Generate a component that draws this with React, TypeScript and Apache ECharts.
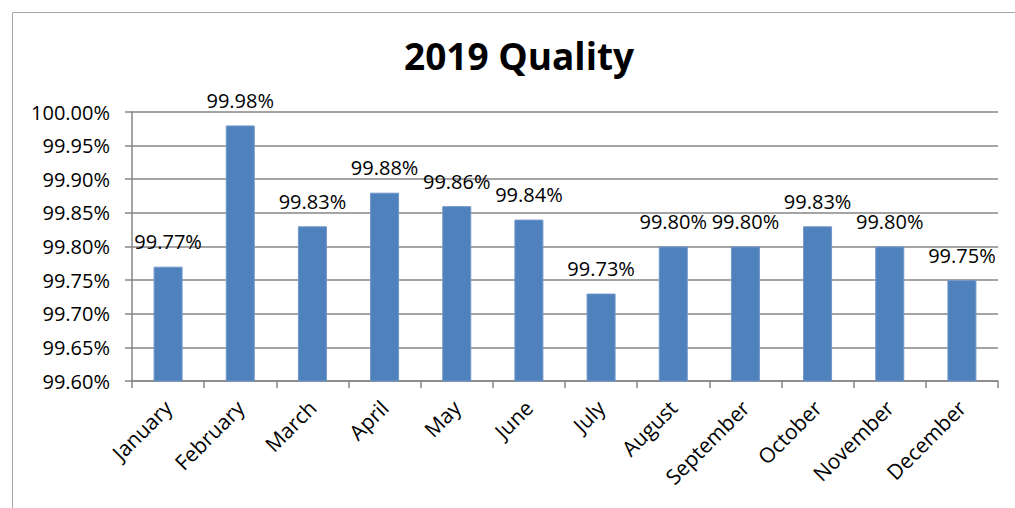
import React, { useEffect, useRef } from "react";
import * as echarts from "echarts";

const months = ["January", "February", "March", "April", "May", "June", "July", "August", "September", "October", "November", "December"];
const quality = [99.77, 99.98, 99.83, 99.88, 99.86, 99.84, 99.73, 99.8, 99.8, 99.83, 99.8, 99.75];
const yMin = 99.6;
const yMax = 100;
const yStep = 0.05;
const titleText = "2019 Quality";

export default function App() {
  const ref = useRef<HTMLDivElement>(null);
  useEffect(() => {
    document.body.style.margin = "0";
    const chart = echarts.init(ref.current!, undefined, { renderer: "svg" });
    const font = "'Open Sans', sans-serif";
    chart.setOption({
      animation: false,
      backgroundColor: "#ffffff",
      textStyle: { fontFamily: font },
      title: {
        text: titleText,
        left: 399,
        top: 32,
        textStyle: { fontSize: 37, fontWeight: "bold", color: "#000", fontFamily: font },
      },
      graphic: [
        {
          type: "rect",
          left: 10,
          top: 10,
          shape: { width: 1010, height: 497 },
          style: { fill: "none", stroke: "#a6a6a6", lineWidth: 1 },
          silent: true,
        },
      ],
      grid: { left: 132, right: 17, top: 112, bottom: 127, containLabel: false },
      xAxis: {
        type: "category",
        data: months,
        axisLine: { lineStyle: { color: "#868686", width: 1.5 } },
        axisTick: { show: true, length: 7, alignWithLabel: false, lineStyle: { color: "#868686", width: 1.5 } },
        axisLabel: { rotate: 45, fontSize: 21, color: "#000", margin: 23, interval: 0, fontFamily: font },
      },
      yAxis: {
        type: "value",
        min: yMin,
        max: yMax,
        interval: yStep,
        axisLine: { show: true, lineStyle: { color: "#868686", width: 1.5 } },
        axisTick: { show: true, length: 7, lineStyle: { color: "#868686", width: 1.5 } },
        splitLine: { lineStyle: { color: "#868686", width: 1.5 } },
        axisLabel: {
          fontSize: 20,
          color: "#000",
          margin: 22,
          fontFamily: font,
          formatter: (v: number) => v.toFixed(2) + "%",
        },
      },
      series: [
        {
          type: "bar",
          data: quality,
          barWidth: 29,
          itemStyle: { color: "#4F81BD", borderColor: "#7096c8", borderWidth: 1 },
          label: {
            show: true,
            position: "top",
            distance: 15,
            fontSize: 20,
            color: "#000",
            fontFamily: font,
            formatter: (p: any) => Number(p.value).toFixed(2) + "%",
          },
        },
      ],
    });
    return () => chart.dispose();
  }, []);
  return <div ref={ref} style={{ width: 1015, height: 508 }} />;
}
